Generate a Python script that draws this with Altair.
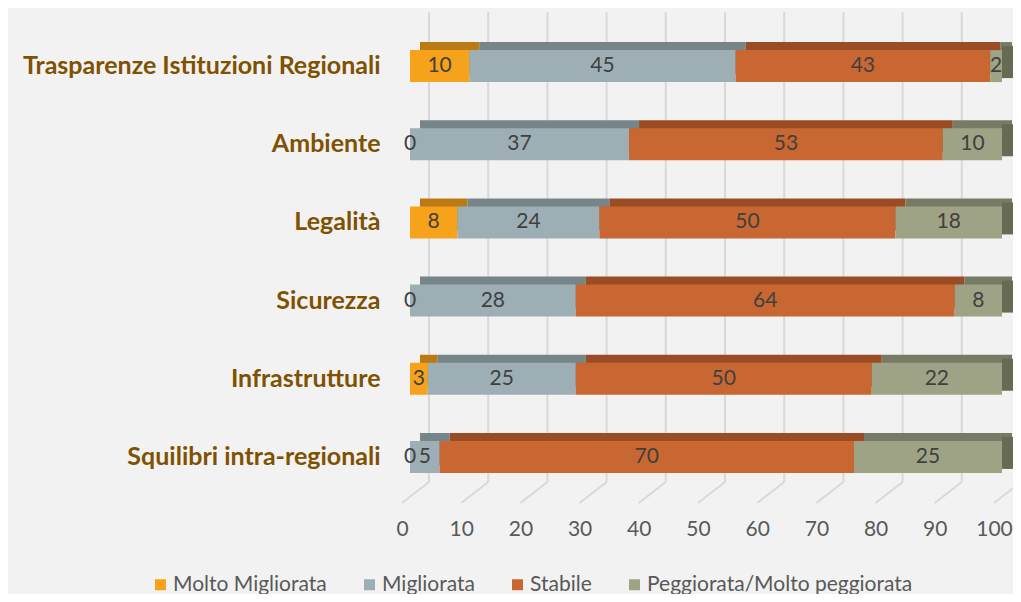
import altair as alt
import pandas as pd

categories = ["Trasparenze Istituzioni Regionali", "Ambiente", "Legalità", "Sicurezza",
              "Infrastrutture", "Squilibri intra-regionali"]
series = ["Molto Migliorata", "Migliorata", "Stabile", "Peggiorata/Molto peggiorata"]
molto_migliorata = [10, 0, 8, 0, 3, 0]
migliorata = [45, 37, 24, 28, 25, 5]
stabile = [43, 53, 50, 64, 50, 70]
peggiorata = [2, 10, 18, 8, 22, 25]
x_ticks = [0, 10, 20, 30, 40, 50, 60, 70, 80, 90, 100]

front_colors = ["#F7A21B", "#9DAFB5", "#C86731", "#9EA385"]
top_colors = ["#BC7A14", "#768589", "#9A4D24", "#777B63"]
side_color = "#676B54"

rows = []
cols = [molto_migliorata, migliorata, stabile, peggiorata]
for i, cat in enumerate(categories):
    start = 0
    for j, s in enumerate(series):
        v = cols[j][i]
        rows.append({"cat": cat, "series": s, "value": v, "x0": start, "x1": start + v,
                     "mid": start + v / 2, "order": j, "last": j == len(series) - 1,
                     "label": str(v)})
        start += v
df = pd.DataFrame(rows)
ticks = pd.DataFrame({"t": x_ticks})

FONT = "Lato"
xscale = alt.Scale(domain=[0, 100], nice=False, zero=True)
yscale = alt.Scale(domain=categories, paddingInner=0.59, paddingOuter=0.295)
xaxis = alt.Axis(values=x_ticks, title=None, domain=False, ticks=False, grid=False,
                 labelOffset=-8, labelPadding=22, labelFontSize=21, labelFlush=False,
                 labelOverlap=False, labelColor="#595959", labelFont=FONT)
yaxis = alt.Axis(title=None, domain=False, ticks=False, grid=False, labelPadding=30,
                 labelFontSize=25, labelFontWeight="bold", labelColor="#7F5100",
                 labelFont=FONT, labelLimit=0)

X = lambda f: alt.X(f, scale=xscale, axis=xaxis, title=None)
Y = alt.Y("cat:N", scale=yscale, axis=yaxis, title=None)

grid_v = alt.Chart(ticks).mark_rule(color="#D9D9D9", strokeWidth=2, xOffset=19).encode(
    x=X("t:Q"), y=alt.value(-15), y2=alt.value(455))
grid_d = alt.Chart(ticks).mark_rule(color="#D9D9D9", strokeWidth=2, xOffset=-8, x2Offset=19).encode(
    x=X("t:Q"), x2="t:Q", y=alt.value(476), y2=alt.value(455))

base = alt.Chart(df)
back = base.mark_bar(size=32, xOffset=10, x2Offset=10, yOffset=-8, y2Offset=-8).encode(
    x=X("x0:Q"), x2="x1:Q", y=Y,
    color=alt.Color("series:N", scale=alt.Scale(domain=series, range=top_colors), legend=None),
    order="order:Q")
side = base.transform_filter("datum.last").mark_bar(
    size=32, x2Offset=11, yOffset=-4, y2Offset=-4, color=side_color).encode(
    x=X("x1:Q"), x2="x1:Q", y=Y)
front = base.mark_bar(size=32).encode(
    x=X("x0:Q"), x2="x1:Q", y=Y,
    color=alt.Color("series:N", scale=alt.Scale(domain=series, range=front_colors),
                    legend=alt.Legend(title=None, orient="none", direction="horizontal",
                                      legendX=-260, legendY=547, symbolType="square",
                                      symbolSize=121, symbolStrokeWidth=0, labelOffset=2,
                                      columnPadding=32, labelFontSize=21, labelColor="#595959",
                                      labelFont=FONT, labelLimit=0, padding=0)),
    order="order:Q")
text = base.mark_text(fontSize=21, color="#404040", font=FONT).encode(
    x=X("mid:Q"), y=Y, text="label:N")

chart = alt.layer(grid_v, grid_d, back, side, front, text).resolve_scale(color="independent").properties(
    width=592, height=469,
    autosize=alt.AutoSizeParams(type="none"),
    padding={"left": 402, "top": 19, "right": 11, "bottom": 98},
    background="#F2F2F2",
).configure_view(strokeWidth=0)

chart.save("out.html", embed_options={"renderer": "svg", "actions": False})
